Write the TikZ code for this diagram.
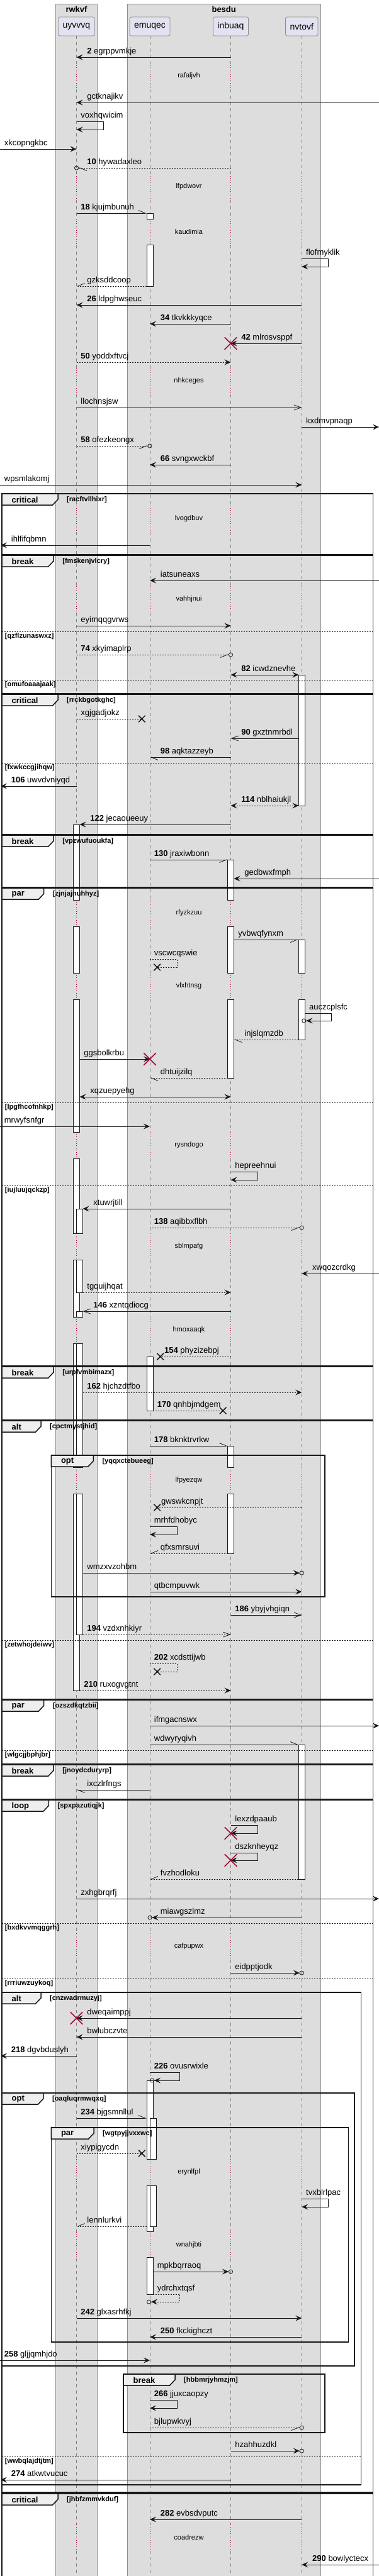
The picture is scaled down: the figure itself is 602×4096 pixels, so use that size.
\documentclass[tikz,border=0pt]{standalone}
\usepackage{fontspec}
\setmainfont{Liberation Sans}
\usetikzlibrary{arrows.meta,shapes.misc}
\definecolor{ink}{HTML}{181818}
\definecolor{lifeln}{HTML}{7F7F7F}
\definecolor{delayc}{HTML}{A80036}
\definecolor{grpbg}{HTML}{DDDDDD}
\definecolor{grpln}{HTML}{8E8E8E}
\definecolor{partbg}{HTML}{E2E2F0}
\definecolor{partln}{HTML}{8E8E8E}
\definecolor{tabbg}{HTML}{EEEEEE}
\definecolor{killc}{HTML}{A80036}
\newcommand{\fs}[1]{\fontsize{#1}{#1}\selectfont}
\tikzset{
  part/.style={draw=partln, fill=partbg, rounded corners=2.5pt, line width=0.8pt, minimum height=30pt, inner xsep=7pt, font=\fs{14}},
  grpbox/.style={draw=grpln, fill=grpbg, line width=0.9pt},
  grptitle/.style={font=\fs{13}\bfseries, inner sep=0pt},
  life/.style={draw=lifeln, line width=0.8pt, dash pattern=on 5pt off 5pt},
  delayline/.style={draw=delayc, line width=0.8pt, dash pattern=on 1pt off 2.5pt},
  delaytxt/.style={font=\fs{11}, inner sep=0pt},
  act/.style={draw=ink, fill=white, line width=0.8pt},
  frm/.style={draw=ink, line width=1.5pt},
  sepl/.style={draw=ink, line width=0.8pt, dash pattern=on 2pt off 2pt},
  kw/.style={font=\fs{13}\bfseries, inner sep=0pt, anchor=west},
  cnd/.style={font=\fs{11}\bfseries, inner sep=0pt, anchor=west},
  msg/.style={draw=ink, line width=0.8pt, -{Stealth[length=10pt,width=9pt,inset=4pt]}},
  dmsg/.style={msg, dash pattern=on 2pt off 2pt},
  lost/.style={draw=ink, line width=0.8pt, dash pattern=on 2pt off 2pt},
  both/.style={{Stealth[length=10pt,width=9pt,inset=4pt]}-{Stealth[length=10pt,width=9pt,inset=4pt]}},
  opn/.style={-{Straight Barb[length=11pt,width=8pt]}},
  hl/.style={-{Straight Barb[harpoon,length=11pt,width=9pt]}},
  hr/.style={-{Straight Barb[harpoon,swap,length=11pt,width=9pt]}},
  hlo/.style={-{Straight Barb[harpoon,length=11pt,width=9pt] Circle[open,length=7pt,width=7pt]}},
  hro/.style={-{Straight Barb[harpoon,swap,length=11pt,width=9pt] Circle[open,length=7pt,width=7pt]}},
  fo/.style={-{Stealth[length=10pt,width=9pt,inset=4pt] Circle[open,length=7pt,width=7pt]}},
  ext/.style={shorten >=-3.5pt},
  lab/.style={anchor=base west, inner sep=0pt, xshift=6.5pt, yshift=5.5pt},
  labl/.style={anchor=base west, inner sep=0pt, xshift=16.5pt, yshift=5.5pt},
  labx/.style={anchor=base west, inner sep=0pt, xshift=6pt, yshift=5.5pt},
  lostx/.style={cross out, draw=ink, line width=1.5pt, minimum size=9pt, inner sep=0pt},
  kill/.style={cross out, draw=killc, line width=1.5pt, minimum size=18pt, inner sep=0pt}
}
% frame: name, x0, y0, x1, y1, keyword, tab width, condition
\newcommand{\grpframe}[8]{%
  \draw[frm] (#2,#3) rectangle (#4,#5);
  \draw[frm, fill=tabbg] (#2,#3) -- ++(#7,0) -- ++(0,9) -- ++(-8.5,9) -- (#2,#3+18) -- cycle;
  \node[kw] (#1k) at (#2+15.5,#3+10) {#6};
  \node[cnd] (#1c) at (#2+#7+14,#3+10) {#8};
}
% else line: name, x0, x1, y, condition
\newcommand{\grpelse}[5]{%
  \draw[sepl] (#2,#4) -- (#3,#4);
  \node[cnd] (#1) at (#2+4.7,#4+8) {#5};
}

\begin{document}
\begin{tikzpicture}[x=1pt, y=-1pt, font=\fs{13}]
  \useasboundingbox (0,0) rectangle (602,4096);

  % boxes and participants
  \draw[grpbox] (88.3,6) rectangle (154.8,4100);
  \draw[grpbox] (202,6) rectangle (509.4,4100);
  \node[grptitle] (rwkvf) at (121.5,15) {rwkvf};
  \node[grptitle] (besdu) at (355.7,15) {besdu};
  \node[part] (uyv) at (121.5,42) {uyvvvq};
  \node[part] (emu) at (238,42) {emuqec};
  \node[part] (inb) at (366.5,42) {inbuaq};
  \node[part] (nvt) at (479.3,42) {nvtovf};

  \coordinate (uyvR) at (126.5,0);
  \coordinate (uyvR2) at (131.5,0);
  \coordinate (emuL) at (233,0);
  \coordinate (emuR) at (243,0);
  \coordinate (inbL) at (361.5,0);
  \coordinate (inbR) at (371.5,0);
  \coordinate (nvtL) at (474.3,0);
  \coordinate (nvtR) at (484.3,0);
  \coordinate (edge) at (0,0);
  \coordinate (lft) at (1,0);
  \coordinate (rgt) at (602,0);

  % lifelines with delays
  \foreach \x in {121.5,238,366.5,479.3} {
    \foreach \a/\b in {57/100,142/276,318/348,390/585,627/804,846/932,974/1431,1473/1547,1589/1800,1842/1961,2003/2094,2136/2333,2375/3074,3116/3433,3475/3549,3591/4014,4056/4100}
      \draw[life] (\x,\a) -- (\x,\b);
    \foreach \d in {121,297,369,606,825,953,1452,1568,1821,1982,2115,2354,3095,3454,3570,4035}
      \draw[delayline] (\x,\d-21) -- (\x,\d+21);
  }
  \foreach \d/\t [count=\i] in {121/rafaljvh,297/lfpdwovr,369/kaudimia,606/nhkceges,825/lvogdbuv,953/vahhjnui,1452/rfyzkzuu,1568/vlxhtnsg,1821/rysndogo,1982/sblmpafg,2115/hmoxaaqk,2354/lfpyezqw,3095/cafpupwx,3454/erynlfpl,3570/wnahjbti,4035/coadrezw}
    \node[delaytxt] (delay\i) at (300,\d) {\t};

  % activations
  \foreach \x/\a/\b in {233/339/348,233/389/455,474.3/1073/1281,116.5/1311/1431,116.5/1473/1547,116.5/1589/1800,116.5/1842/1961,116.5/2003/2094,116.5/2136/2333,116.5/2375/2688,361.5/1367/1431,361.5/1473/1547,361.5/1589/1714,474.3/1494/1547,474.3/1589/1653,121.5/1922/1961,121.5/2003/2055,121.5/2085/2094,121.5/2136/2333,121.5/2375/2599,233/2157/2243,361.5/2299/2333,361.5/2375/2470,474.3/2774/2988,233/3308/3433,233/3475/3548,233/3589/3648,238/3368/3433,238/3475/3540}
    \draw[act] (\x,\a) rectangle (\x+10,\b);

  % frames
  \grpframe{f1}{3}{785}{592.3}{882}{critical}{89}{[racftvllhixr]}
  \grpframe{f2}{3}{883}{592.3}{1103}{break}{82.2}{[fmskenjvlcry]}
  \grpelse{s1}{3}{592.3}{1004}{[qzflzunaswxz]}
  \grpelse{s2}{3}{592.3}{1081}{[omufoaaajaak]}
  \grpframe{f3}{3}{1104}{592.3}{1327}{critical}{89}{[rrckbgotkghc]}
  \grpelse{s3}{3}{592.3}{1213}{[fxwkccgjihqw]}
  \grpframe{f4}{3}{1328}{592.3}{1411}{break}{82.2}{[vpzwufuoukfa]}
  \grpframe{f5}{3}{1412}{592.3}{2172}{par}{66.7}{[zjnjajnuhhyz]}
  \grpelse{s4}{3}{592.3}{1753}{[lpgfhcofnhkp]}
  \grpelse{s5}{3}{592.3}{1885}{[iujluujqckzp]}
  \grpframe{f6}{3}{2173}{592.3}{2258}{break}{82.2}{[urpfvmbimazx]}
  \grpframe{f7}{3}{2259}{592.3}{2702}{alt}{62}{[cpctmystjhid]}
  \grpframe{f8}{81.3}{2314}{516}{2539}{opt}{67}{[yqqxctebueeg]}
  \grpelse{s6}{3}{592.3}{2608}{[zetwhojdeiwv]}
  \grpframe{f9}{3}{2703}{592.3}{2805}{par}{66.7}{[ozszdkqtzbii]}
  \grpelse{s7}{3}{592.3}{2783}{[wlgcjjbphjbr]}
  \grpframe{f10}{3}{2806}{592.3}{2861}{break}{82.2}{[jnoydcduryrp]}
  \grpframe{f11}{3}{2862}{592.3}{3963}{loop}{74.4}{[spxpazutiqjk]}
  \grpelse{s8}{3}{592.3}{3058}{[bxdkvvmqggrh]}
  \grpelse{s9}{3}{592.3}{3146}{[rrriuwzuykoq]}
  \grpframe{f12}{3}{3168}{573.3}{3951}{alt}{62}{[cnzwadrmuzyj]}
  \grpframe{f13}{3}{3328}{563.2}{3762}{opt}{65.9}{[oaqluqrmwqxq]}
  \grpframe{f14}{81.3}{3383}{553.6}{3724}{par}{67.7}{[wgtpyjjvxxwc]}
  \grpframe{f15}{196}{3775}{516}{3868}{break}{82}{[hbbmrjyhmzjm]}
  \grpelse{s10}{3}{573.3}{3906}{[wwbqlajdtjtm]}
  \grpframe{f16}{3}{3965}{592.3}{4110}{critical}{89}{[jhbfzmmvkduf]}

  % messages
  \draw[msg] (inb |- 0,91) -- (uyv |- 0,91) node[labl] (m1) {\textbf{2} egrppvmkje};
  \draw[msg] (rgt |- 0,163) -- (uyv |- 0,163) node[labl] (m2) {gctknajikv};
  \draw[msg] (uyv |- 0,193) node[lab] (m3) {voxhqwicim} -- ++(42.5,0) -- ++(0,13) -- ++(-42.5,0);
  \draw[msg] (edge |- 0,237) node[lab] (m4) {xkcopngkbc} -- (uyv |- 0,237);
  \draw[dmsg, hlo, ext] (inb |- 0,267) -- (uyv |- 0,267) node[labl] (m5) {\textbf{10} hywadaxleo};
  \draw[msg, hl] (uyv |- 0,339) node[lab] (m6) {\textbf{18} kjujmbunuh} -- (emuL |- 0,339);
  \draw[msg] (nvt |- 0,411) node[lab] (m7) {flofmyklik} -- ++(42.5,0) -- ++(0,13) -- ++(-42.5,0);
  \draw[dmsg, hr] (emuL |- 0,455) -- (uyv |- 0,455) node[labl] (m8) {gzksddcoop};
  \draw[msg] (nvt |- 0,485) -- (uyv |- 0,485) node[labl] (m9) {\textbf{26} ldpghwseuc};
  \draw[msg] (inb |- 0,515) -- (emu |- 0,515) node[labl] (m10) {\textbf{34} tkvkkkyqce};
  \draw[msg] (nvt |- 0,546) -- (inb |- 0,546) node[labl] (m11) {\textbf{42} mlrosvsppf};
  \node[kill] (k1) at (inb |- 0,546) {};
  \draw[dmsg] (uyv |- 0,576) node[lab] (m12) {\textbf{50} yoddxftvcj} -- (inb |- 0,576);
  \draw[msg, opn] (uyv |- 0,648) node[lab] (m13) {llochnsjsw} -- (nvt |- 0,648);
  \draw[msg] (nvt |- 0,679) node[lab] (m14) {kxdmvpnaqp} -- (rgt |- 0,679);
  \draw[dmsg, hro, ext] (uyv |- 0,709) node[lab] (m15) {\textbf{58} ofezkeongx} -- (emu |- 0,709);
  \draw[msg] (inb |- 0,739) -- (emu |- 0,739) node[labl] (m16) {\textbf{66} svngxwckbf};
  \draw[msg] (edge |- 0,771) node[lab] (m17) {wpsmlakomj} -- (nvt |- 0,771);
  \draw[msg] (emu |- 0,867) -- (lft |- 0,867) node[labl] (m18) {ihlfifqbmn};
  \draw[msg] (rgt |- 0,923) -- (emu |- 0,923) node[labl] (m19) {iatsuneaxs};
  \draw[msg] (uyv |- 0,995) node[lab] (m20) {eyimqqgvrws} -- (inb |- 0,995);
  \draw[dmsg, hro, ext] (uyv |- 0,1041) node[lab] (m21) {\textbf{74} xkyimaplrp} -- (inb |- 0,1041);
  \draw[msg, both] (inb |- 0,1073) node[labl] (m22) {\textbf{82} icwdznevhe} -- (nvtL |- 0,1073);
  \node[lostx] (x1) at (225.3,1143) {};
  \draw[lost] (uyv |- 0,1143) node[lab] (m23) {xgjgadjokz} -- (x1.center);
  \draw[msg, opn] (nvtL |- 0,1174) -- (inb |- 0,1174) node[labl] (m24) {\textbf{90} gxztnmrbdl};
  \draw[msg, hl] (inb |- 0,1204) -- (emu |- 0,1204) node[labl] (m25) {\textbf{98} aqktazzeyb};
  \draw[msg] (uyv |- 0,1250) -- (lft |- 0,1250) node[labl] (m26) {\textbf{106} uwvdvniyqd};
  \draw[dmsg, both] (inb |- 0,1281) node[labl] (m27) {\textbf{114} nblhaiukjl} -- (nvtL |- 0,1281);
  \draw[msg] (inb |- 0,1311) -- (uyvR |- 0,1311) node[labl] (m28) {\textbf{122} jecaoueeuy};
  \draw[msg, hr] (emu |- 0,1367) node[lab] (m29) {\textbf{130} jraxiwbonn} -- (inbL |- 0,1367);
  \draw[msg] (rgt |- 0,1397) -- (inbR |- 0,1397) node[labl] (m30) {gedbwxfmph};
  \draw[msg, hr] (inbR |- 0,1494) node[lab] (m31) {yvbwqfynxm} -- (nvtL |- 0,1494);
  \node[lostx] (x2) at (249.7,1538) {};
  \draw[lost] (emu |- 0,1525) node[lab] (m32) {vscwcqswie} -- ++(43,0) -- ++(0,13) -- (x2.center);
  \draw[msg, fo] (nvtR |- 0,1611) node[lab] (m33) {auczcplsfc} -- ++(42.5,0) -- ++(0,12) -- (nvt |- 0,1623);
  \draw[dmsg, hl] (nvtL |- 0,1653) -- (inbR |- 0,1653) node[labl] (m34) {injslqmzdb};
  \draw[msg] (uyvR |- 0,1684) node[lab] (m35) {ggsbolkrbu} -- (emu |- 0,1684);
  \node[kill] (k2) at (emu |- 0,1684) {};
  \draw[dmsg, hl] (inbL |- 0,1714) -- (emu |- 0,1714) node[labl] (m36) {dhtuijzilq};
  \draw[msg, both] (uyvR |- 0,1744) node[labl] (m37) {xqzuepyehg} -- (inb |- 0,1744);
  \draw[msg] (edge |- 0,1791) node[lab] (m38) {mrwyfsnfgr} -- (emu |- 0,1791);
  \draw[msg] (inb |- 0,1863) node[lab] (m39) {hepreehnui} -- ++(43,0) -- ++(0,13) -- ++(-43,0);
  \draw[msg] (inb |- 0,1922) -- (uyvR2 |- 0,1922) node[labl] (m40) {xtuwrjtill};
  \draw[dmsg, hro, ext] (emu |- 0,1952) node[lab] (m41) {\textbf{138} aqibbxflbh} -- (nvt |- 0,1952);
  \draw[msg] (rgt |- 0,2025) -- (nvt |- 0,2025) node[labl] (m42) {xwqozcrdkg};
  \draw[dmsg] (uyvR2 |- 0,2055) node[lab] (m43) {tgquijhqat} -- (inb |- 0,2055);
  \draw[msg, opn] (inb |- 0,2085) -- (uyvR2 |- 0,2085) node[labl] (m44) {\textbf{146} xzntqdiocg};
  \node[lostx] (x3) at (254.7,2157) {};
  \draw[lost] (inb |- 0,2157) -- (x3.center) node[labx] (m45) {\textbf{154} phyzizebpj};
  \draw[dmsg] (uyvR2 |- 0,2214) node[lab] (m46) {\textbf{162} hjchzdtfbo} -- (nvt |- 0,2214);
  \node[lostx] (x4) at (354.2,2243) {};
  \draw[lost] (emuR |- 0,2243) node[lab] (m47) {\textbf{170} qnhbjmdgem} -- (x4.center);
  \draw[msg, hl] (emu |- 0,2299) node[lab] (m48) {\textbf{178} bknktrvrkw} -- (inbL |- 0,2299);
  \node[lostx] (x5) at (249.7,2397) {};
  \draw[lost] (nvt |- 0,2397) -- (x5.center) node[labx] (m49) {gwswkcnpjt};
  \draw[msg] (emu |- 0,2427) node[lab] (m50) {mrhfdhobyc} -- ++(43,0) -- ++(0,13) -- ++(-43,0);
  \draw[dmsg, hr] (inbL |- 0,2470) -- (emu |- 0,2470) node[labl] (m51) {qfxsmrsuvi};
  \draw[msg, fo, ext] (uyvR2 |- 0,2501) node[lab] (m52) {wmzxvzohbm} -- (nvt |- 0,2501);
  \draw[msg] (emu |- 0,2531) node[lab] (m53) {qtbcmpuvwk} -- (nvt |- 0,2531);
  \draw[msg, opn] (inb |- 0,2568) node[lab] (m54) {\textbf{186} ybyjvhgiqn} -- (nvt |- 0,2568);
  \draw[dmsg, opn] (uyvR2 |- 0,2599) node[lab] (m55) {\textbf{194} vzdxnhkiyr} -- (inb |- 0,2599);
  \node[lostx] (x6) at (249.7,2658) {};
  \draw[lost] (emu |- 0,2645) node[lab] (m56) {\textbf{202} xcdsttijwb} -- ++(43,0) -- ++(0,13) -- (x6.center);
  \draw[dmsg] (uyvR |- 0,2688) node[lab] (m57) {\textbf{210} ruxogvgtnt} -- (inb |- 0,2688);
  \draw[msg] (emu |- 0,2744) node[lab] (m58) {ifmgacnswx} -- (rgt |- 0,2744);
  \draw[msg, hl] (emu |- 0,2774) node[lab] (m59) {wdwyryqivh} -- (nvtL |- 0,2774);
  \draw[msg, hl] (emu |- 0,2846) -- (uyv |- 0,2846) node[labl] (m60) {ixczlrfngs};
  \draw[msg] (inb |- 0,2902) node[lab] (m61) {lexzdpaaub} -- ++(43,0) -- ++(0,13) -- ++(-43,0);
  \node[kill] (k3) at (inb |- 0,2915) {};
  \draw[msg] (inb |- 0,2946) node[lab] (m62) {dszknheyqz} -- ++(43,0) -- ++(0,12) -- ++(-43,0);
  \node[kill] (k4) at (inb |- 0,2958) {};
  \draw[dmsg, hr] (nvtL |- 0,2988) -- (emu |- 0,2988) node[labl] (m63) {fvzhodloku};
  \draw[msg] (uyv |- 0,3019) node[lab] (m64) {zxhgbrqrfj} -- (rgt |- 0,3019);
  \draw[msg, fo, ext] (nvt |- 0,3049) -- (emu |- 0,3049) node[labl] (m65) {miawgszlmz};
  \draw[msg, fo, ext] (inb |- 0,3137) node[lab] (m66) {eidpptjodk} -- (nvt |- 0,3137);
  \draw[msg] (nvt |- 0,3209) -- (uyv |- 0,3209) node[labl] (m67) {dweqaimppj};
  \node[kill] (k5) at (uyv |- 0,3209) {};
  \draw[msg] (nvt |- 0,3239) -- (uyv |- 0,3239) node[labl] (m68) {bwlubczvte};
  \draw[msg] (uyv |- 0,3269) -- (lft |- 0,3269) node[labl] (m69) {\textbf{218} dgvbduslyh};
  \draw[msg, fo] (emu |- 0,3295) node[lab] (m70) {\textbf{226} ovusrwixle} -- ++(47.7,0) -- ++(0,13) -- (emu |- 0,3308);
  \draw[msg, hl] (uyv |- 0,3368) node[lab] (m71) {\textbf{234} bjgsmnllul} -- (emuL |- 0,3368);
  \node[lostx] (x7) at (225.3,3424) {};
  \draw[lost] (uyv |- 0,3424) node[lab] (m72) {xiypigycdn} -- (x7.center);
  \draw[msg] (nvt |- 0,3496) node[lab] (m73) {tvxblrlpac} -- ++(42.5,0) -- ++(0,13) -- ++(-42.5,0);
  \draw[dmsg, hr] (emuL |- 0,3540) -- (uyv |- 0,3540) node[labl] (m74) {lennlurkvi};
  \draw[msg, fo, ext] (emuR |- 0,3612) node[lab] (m75) {mpkbqrraoq} -- (inb |- 0,3612);
  \draw[dmsg, fo] (emuR |- 0,3648) node[lab] (m76) {ydrchxtqsf} -- ++(42.7,0) -- ++(0,12) -- (emuL |- 0,3660);
  \draw[msg] (uyv |- 0,3686) node[lab] (m77) {\textbf{242} glxasrhfkj} -- (nvt |- 0,3686);
  \draw[msg] (nvt |- 0,3716) -- (emu |- 0,3716) node[labl] (m78) {\textbf{250} fkckighczt};
  \draw[msg] (edge |- 0,3753) node[lab] (m79) {\textbf{258} gljjqmhjdo} -- (emu |- 0,3753);
  \draw[msg] (emu |- 0,3816) node[lab] (m80) {\textbf{266} jjuxcaopzy} -- ++(43,0) -- ++(0,13) -- ++(-43,0);
  \draw[dmsg, hro, ext] (emu |- 0,3860) node[lab] (m81) {bjlupwkvyj} -- (nvt |- 0,3860);
  \draw[msg, fo, ext] (inb |- 0,3897) node[lab] (m82) {hzahhuzdkl} -- (nvt |- 0,3897);
  \draw[msg] (inb |- 0,3943) -- (lft |- 0,3943) node[labl] (m83) {\textbf{274} atkwtvucuc};
  \draw[msg] (nvt |- 0,4006) -- (emu |- 0,4006) node[labl] (m84) {\textbf{282} evbsdvputc};
  \draw[msg] (rgt |- 0,4078) -- (nvt |- 0,4078) node[labl] (m85) {\textbf{290} bowlyctecx};
\end{tikzpicture}
\end{document}
